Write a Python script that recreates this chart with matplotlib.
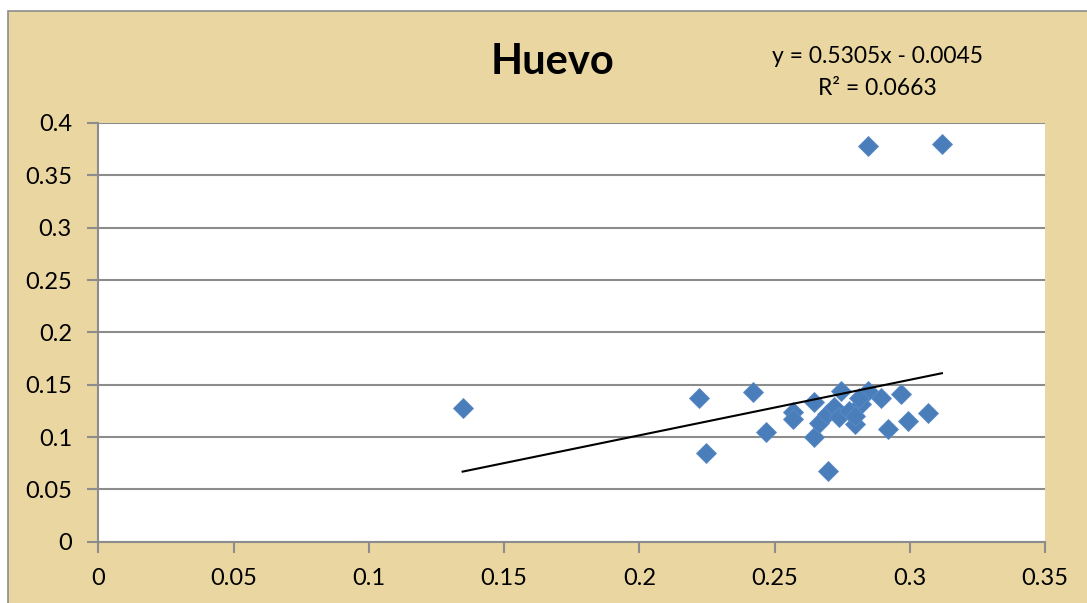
import matplotlib
matplotlib.use("Agg")
import matplotlib.pyplot as plt
from matplotlib.patches import Rectangle
import numpy as np

# Data
x_vals = [0.1347, 0.2222, 0.2247, 0.2421, 0.2470, 0.2570, 0.2570, 0.2647,
          0.2647, 0.2696, 0.2745, 0.2846, 0.2895, 0.2969, 0.2920, 0.2995,
          0.3069, 0.2797, 0.2665, 0.2695, 0.2720, 0.2739, 0.2776, 0.2820,
          0.2798, 0.2812, 0.2846, 0.3119]
y_vals = [0.1278, 0.1377, 0.0851, 0.1428, 0.1052, 0.1237, 0.1170, 0.1338,
          0.1001, 0.0676, 0.1441, 0.1444, 0.1377, 0.1409, 0.1075, 0.1154,
          0.1228, 0.1122, 0.1135, 0.1221, 0.1288, 0.1192, 0.1250, 0.1316,
          0.1202, 0.1374, 0.3783, 0.3802]
slope = 0.5305
intercept = -0.0045
r_squared = 0.0663
title = "Huevo"
x_ticks = [0, 0.05, 0.1, 0.15, 0.2, 0.25, 0.3, 0.35]
x_tick_labels = ["0", "0.05", "0.1", "0.15", "0.2", "0.25", "0.3", "0.35"]
y_ticks = [0, 0.05, 0.1, 0.15, 0.2, 0.25, 0.3, 0.35, 0.4]
y_tick_labels = ["0", "0.05", "0.1", "0.15", "0.2", "0.25", "0.3", "0.35", "0.4"]

plt.rcParams['font.family'] = ['Lato', 'DejaVu Sans']

W, H = 1087, 603
fig = plt.figure(figsize=(W / 100, H / 100), dpi=100)
fig.patch.set_facecolor("white")

bg = "#EAD6A1"
grid_c = "#8C8C8C"
fig.patches.append(Rectangle((8 / W, -0.1), 1.2, 1 - 11 / H + 0.1,
                             transform=fig.transFigure, facecolor=bg,
                             edgecolor=grid_c, linewidth=1.2, zorder=-10))

ax = fig.add_axes([98.3 / W, 61.3 / H, (1045 - 98.3) / W, (541.7 - 123) / H])
ax.set_zorder(5)
ax.set_facecolor("white")
ax.set_xlim(0, 0.35)
ax.set_ylim(0, 0.4)

ax.set_xticks(x_ticks)
ax.set_xticklabels(x_tick_labels)
ax.set_yticks(y_ticks)
ax.set_yticklabels(y_tick_labels)

for sp in ["top", "right"]:
    ax.spines[sp].set_visible(False)
for sp in ["left", "bottom"]:
    ax.spines[sp].set_color(grid_c)
    ax.spines[sp].set_linewidth(1.5)

ax.yaxis.grid(True, color=grid_c, linewidth=1.5)
ax.set_axisbelow(True)
ax.tick_params(axis="both", colors=grid_c, length=8, width=1.5,
               labelcolor="black", labelsize=17)
ax.tick_params(axis="x", pad=11)
ax.tick_params(axis="y", pad=11)

ax.plot(x_vals, y_vals, linestyle="none", marker="D", markersize=10.5,
        markerfacecolor="#4A7EBB", markeredgecolor="#5B8BC6",
        markeredgewidth=0.6, zorder=3, clip_on=False)

x0, x1 = min(x_vals), max(x_vals)
xs = np.array([x0, x1])
ax.plot(xs, slope * xs + intercept, color="black", linewidth=1.5, zorder=4)

fig.text(553 / W, 1 - 62 / H, title, ha="center", va="center",
         fontsize=30, fontweight="bold")
fig.text(877 / W, 1 - 56.7 / H, f"y = {slope:.4f}x - {abs(intercept):.4f}",
         ha="center", va="center", fontsize=16.5)
fig.text(877 / W, 1 - 88.3 / H, f"R² = {r_squared:.4f}",
         ha="center", va="center", fontsize=16.5)

fig.savefig("out.png", dpi=100, facecolor=fig.get_facecolor())
